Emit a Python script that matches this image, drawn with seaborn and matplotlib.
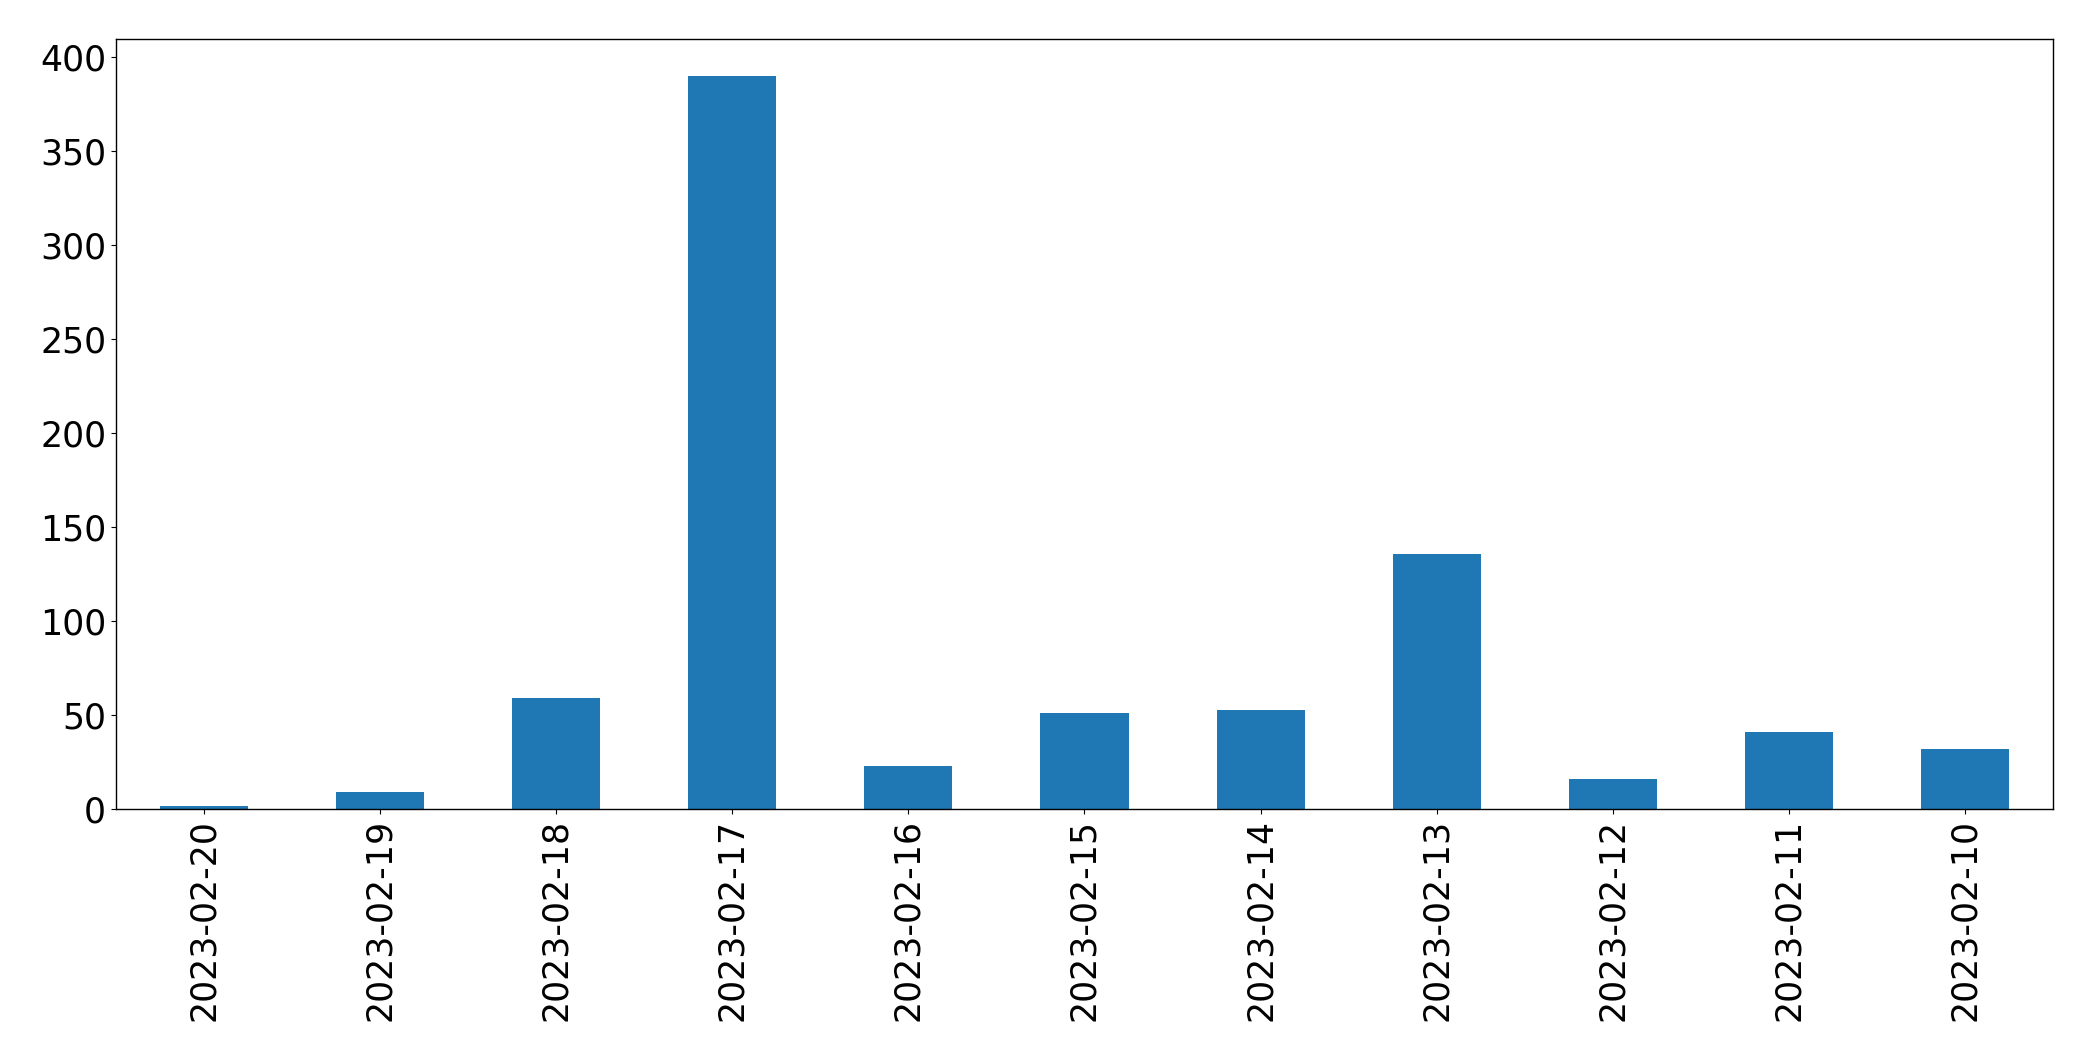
import matplotlib
matplotlib.use("Agg")
import matplotlib.pyplot as plt
import seaborn as sns
import pandas as pd

dates = ["2023-02-20", "2023-02-19", "2023-02-18", "2023-02-17", "2023-02-16",
         "2023-02-15", "2023-02-14", "2023-02-13", "2023-02-12", "2023-02-11",
         "2023-02-10"]
counts = [2, 9, 59, 390, 23, 51, 53, 136, 16, 41, 32]

df = pd.DataFrame({"date": dates, "count": counts})

plt.rcParams["font.family"] = ["DejaVu Sans"]
fig = plt.figure(figsize=(20.93, 10.61), dpi=100)
ax = fig.add_axes([0.0554, 0.2372, 0.9255, 0.7258])

sns.barplot(data=df, x="date", y="count", order=dates, color="#1f77b4",
            saturation=1, width=0.5, ax=ax, edgecolor="none", linewidth=0)

ax.set_xlim(-0.5, len(dates) - 0.5)
ax.set_ylim(0, max(counts) * 1.05)
ax.set_xlabel("")
ax.set_ylabel("")
ax.tick_params(axis="both", labelsize=25)
ax.tick_params(axis="x", labelrotation=90)
for s in ax.spines.values():
    s.set_visible(True)
    s.set_linewidth(1.0)

fig.savefig("out.png", dpi=100)
